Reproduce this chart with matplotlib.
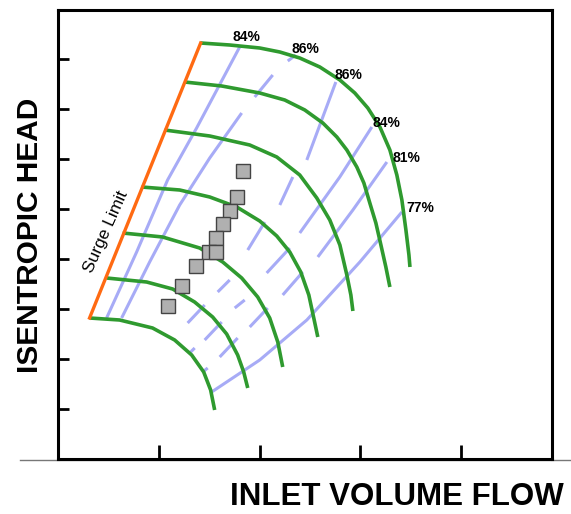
import matplotlib
matplotlib.use('Agg')
import matplotlib.pyplot as plt
from matplotlib.lines import Line2D

plt.rcParams['font.family'] = ['Liberation Sans', 'DejaVu Sans']

# speed lines (green), flow / head pairs
speed_1 = ([1.415, 1.703, 2.001, 2.200, 2.398, 2.597, 2.796, 2.944, 3.073, 3.193, 3.292, 3.361, 3.411, 3.451, 3.481, 3.491],
           [8.32, 8.28, 8.22, 8.14, 8.02, 7.84, 7.58, 7.32, 7.02, 6.64, 6.18, 5.68, 5.18, 4.58, 4.08, 3.84])
speed_2 = ([1.256, 1.624, 2.001, 2.249, 2.448, 2.627, 2.766, 2.865, 2.964, 3.034, 3.093, 3.153, 3.203, 3.252, 3.292],
           [7.54, 7.46, 7.32, 7.18, 6.98, 6.72, 6.44, 6.18, 5.84, 5.52, 5.12, 4.72, 4.28, 3.84, 3.44])
speed_3 = ([1.057, 1.505, 1.902, 2.170, 2.398, 2.567, 2.696, 2.796, 2.865, 2.905, 2.925],
           [6.58, 6.46, 6.28, 6.04, 5.68, 5.22, 4.78, 4.28, 3.68, 3.28, 2.96])
speed_4 = ([0.829, 1.207, 1.505, 1.773, 2.001, 2.170, 2.299, 2.408, 2.488, 2.537, 2.577],
           [5.44, 5.38, 5.24, 5.04, 4.76, 4.46, 4.14, 3.74, 3.28, 2.82, 2.44])
speed_5 = ([0.641, 1.038, 1.405, 1.634, 1.822, 1.981, 2.100, 2.180, 2.229],
           [4.52, 4.44, 4.22, 3.94, 3.62, 3.24, 2.82, 2.34, 1.84])
speed_6 = ([0.482, 0.879, 1.137, 1.355, 1.534, 1.673, 1.782, 1.842, 1.882],
           [3.62, 3.54, 3.40, 3.14, 2.84, 2.50, 2.08, 1.74, 1.42])
speed_7 = ([0.313, 0.611, 0.938, 1.157, 1.326, 1.445, 1.514, 1.554],
           [2.82, 2.78, 2.62, 2.38, 2.08, 1.74, 1.38, 0.98])
speed_lines = [speed_1, speed_2, speed_3, speed_4, speed_5, speed_6, speed_7]

surge_flow = [0.313, 1.415]
surge_head = [2.82, 8.32]

# efficiency lines (blue), continuous parts
eff_solid = [
    ([0.482, 0.780, 1.087, 1.375, 1.802], [2.82, 4.14, 5.58, 6.62, 8.24]),
    ([0.631, 0.909, 1.207, 1.505, 1.822], [2.82, 3.94, 5.08, 6.02, 6.92]),
    ([2.756, 2.468], [7.54, 5.98]),
    ([3.113, 2.795, 2.398], [6.64, 5.64, 4.52]),
    ([3.262, 2.925, 2.577], [5.94, 4.98, 4.04]),
    ([3.411, 2.994, 2.468, 2.001, 1.524], [4.94, 3.94, 2.78, 1.98, 1.34]),
]
# broken parts of the same lines, one dash per pair
eff_dash_flow = [
    (1.951, 2.130), (2.279, 2.358),
    (2.329, 2.200), (2.051, 1.882), (1.703, 1.584), (1.455, 1.286),
    (2.299, 2.070), (1.852, 1.753), (1.624, 1.455), (1.356, 1.306),
    (2.428, 2.229), (2.080, 1.902), (1.782, 1.604), (1.485, 1.435),
]
eff_dash_head = [
    (7.24, 7.68), (7.96, 8.08),
    (5.64, 5.08), (4.74, 4.18), (3.58, 3.34), (3.08, 2.72),
    (4.22, 3.72), (3.18, 3.02), (2.74, 2.38), (2.22, 2.12),
    (3.74, 3.28), (3.02, 2.64), (2.42, 2.04), (1.82, 1.74),
]

eff_labels = ['84%', '86%', '86%', '84%', '81%', '77%']
eff_label_flow = [1.872, 2.458, 2.885, 3.262, 3.461, 3.590]
eff_label_head = [8.44, 8.20, 7.68, 6.72, 6.02, 5.02]

# operating points
op_flow = [1.832, 1.773, 1.703, 1.634, 1.564, 1.494, 1.564, 1.365, 1.226, 1.087]
op_head = [5.76, 5.24, 4.96, 4.70, 4.42, 4.14, 4.14, 3.86, 3.46, 3.06]

GREEN = '#2f9a2f'
BLUE = '#a7abf6'
ORANGE = '#ff6a12'

fig = plt.figure(figsize=(5.71, 5.14), dpi=100)
ax = fig.add_axes([58 / 571, 55 / 514, 494 / 571, 449 / 514])

for fx, hy in eff_solid:
    ax.plot(fx, hy, color=BLUE, lw=2.2, solid_capstyle='butt', zorder=2)
for fx, hy in zip(eff_dash_flow, eff_dash_head):
    ax.plot(fx, hy, color=BLUE, lw=2.2, solid_capstyle='butt', zorder=2)

for fx, hy in speed_lines:
    ax.plot(fx, hy, color=GREEN, lw=2.6, solid_capstyle='butt', solid_joinstyle='round', zorder=3)

ax.plot(surge_flow, surge_head, color=ORANGE, lw=2.4, zorder=4)
ax.text(0.472, 4.54, 'Surge Limit', rotation=66, ha='center', va='center', fontsize=12.5)

for lab, fx, hy in zip(eff_labels, eff_label_flow, eff_label_head):
    ax.text(fx, hy, lab, ha='center', va='center', fontsize=10, fontweight='bold', zorder=5)

ax.plot(op_flow, op_head, ls='none', marker='s', markersize=10.5,
        markerfacecolor='#b0b0b0', markeredgecolor='#444444', markeredgewidth=1.0, zorder=6)

ax.set_xlim(0, 4.9)
ax.set_ylim(0, 8.98)
ax.set_xticks([1, 2, 3, 4])
ax.set_yticks([1, 2, 3, 4, 5, 6, 7, 8])
ax.set_xticklabels([])
ax.set_yticklabels([])
ax.tick_params(axis='x', direction='in', length=10, width=2)
ax.tick_params(axis='y', direction='in', length=8, width=2)
for sp in ax.spines.values():
    sp.set_linewidth(2.2)

# thin baseline running past the frame
fig.add_artist(Line2D([20 / 571, 1], [54.5 / 514, 54.5 / 514], color='#777777', lw=1, zorder=0))

fig.text(397 / 571, 17 / 514, 'INLET VOLUME FLOW', ha='center', va='center',
         fontsize=22.5, fontweight='bold')
fig.text(30 / 571, 279 / 514, 'ISENTROPIC HEAD', ha='center', va='center',
         rotation=90, fontsize=21.5, fontweight='bold')

fig.savefig('out.png', dpi=100)
